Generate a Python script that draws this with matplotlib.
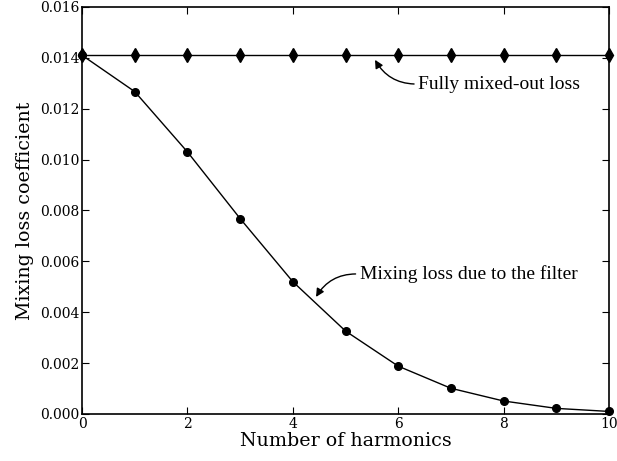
import matplotlib
matplotlib.use("Agg")
import matplotlib.pyplot as plt

# Mixing loss vs number of harmonics kept by the filter
harmonics = [0, 1, 2, 3, 4, 5, 6, 7, 8, 9, 10]
filter_loss = [0.0141, 0.01267, 0.0103, 0.00768, 0.0052, 0.00326, 0.00188, 0.00101, 0.00051, 0.00022, 0.0001]
mixed_out_loss = [0.0141] * len(harmonics)

plt.rcParams['font.family'] = ['DejaVu Serif']

fig = plt.figure(figsize=(6.17, 4.61), dpi=100)
ax = fig.add_axes([0.133, 0.102, 0.854, 0.883])

ax.plot(harmonics, mixed_out_loss, color='black', lw=1.0, marker='d',
        markersize=7, clip_on=False, zorder=3)
ax.plot(harmonics, filter_loss, color='black', lw=1.0, marker='o',
        markersize=5.5, clip_on=False, zorder=3)

ax.set_xlim(0, 10)
ax.set_ylim(0, 0.016)
ax.set_xticks(range(0, 11, 2))
ax.set_yticks([i * 0.002 for i in range(9)])
ax.yaxis.set_major_formatter(plt.FuncFormatter(lambda v, p: f"{v:.3f}"))
ax.tick_params(direction='in', top=True, right=True, labelsize=10, length=5, pad=2)
ax.set_xlabel("Number of harmonics", fontsize=13.7, labelpad=1)
ax.set_ylabel("Mixing loss coefficient", fontsize=13.7)
for s in ax.spines.values():
    s.set_linewidth(1.2)

# curved arrows leave from the left edge of each label
ann_font = dict(family='Liberation Serif', fontsize=14)
ax.annotate("Fully mixed-out loss", xy=(5.56, 0.01392), xytext=(6.38, 0.01297),
            va='center', ha='left', **ann_font,
            arrowprops=dict(arrowstyle='-|>', color='black', lw=1.0,
                            connectionstyle='arc3,rad=-0.3', shrinkA=1, shrinkB=0,
                            mutation_scale=12, relpos=(0, 0.5)))
ax.annotate("Mixing loss due to the filter", xy=(4.44, 0.0046), xytext=(5.27, 0.0055),
            va='center', ha='left', **ann_font,
            arrowprops=dict(arrowstyle='-|>', color='black', lw=1.0,
                            connectionstyle='arc3,rad=0.3', shrinkA=1, shrinkB=0,
                            mutation_scale=12, relpos=(0, 0.5)))

fig.savefig("out.png", dpi=100)
